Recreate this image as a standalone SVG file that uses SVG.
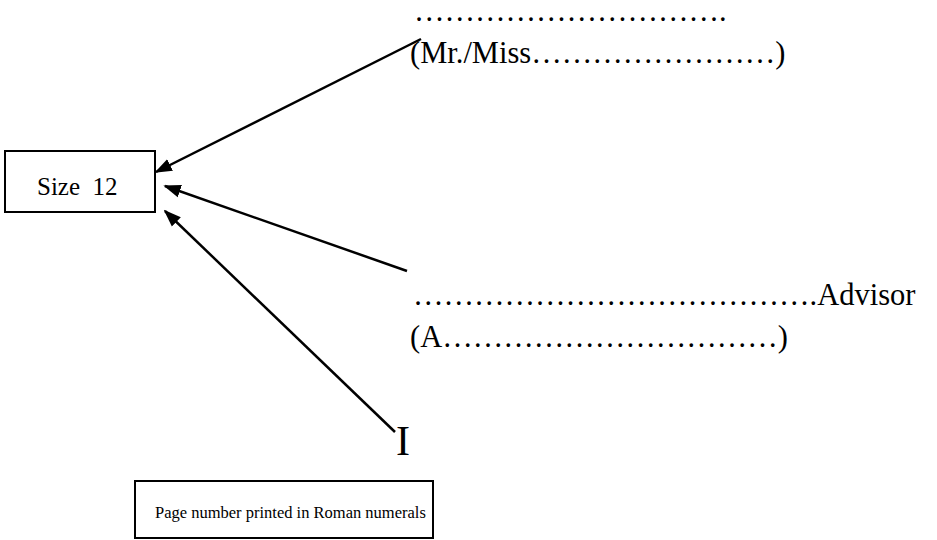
<svg xmlns="http://www.w3.org/2000/svg" width="937" height="540" viewBox="0 0 937 540">
  <style>
    .box { fill: #fff; stroke: #000; stroke-width: 2; }
    .lbl { font-family: "Liberation Serif", "Times New Roman", serif; fill: #000; }
    .big { font-size: 30.5px; }
    .small { font-size: 25px; }
    .note { font-size: 16.5px; }
    .edge { stroke: #000; stroke-width: 2.5; fill: none; marker-end: url(#head); }
  </style>
  <defs>
    <marker id="head" viewBox="0 0 10 10" refX="9" refY="5" markerWidth="7" markerHeight="7" orient="auto" markerUnits="strokeWidth">
      <path d="M0,1.3 L10,5 L0,8.7 z" fill="#000"/>
    </marker>
  </defs>
  <rect width="937" height="540" fill="#fff"/>

  <!-- font size callout -->
  <g id="size-note">
    <rect class="box" x="5" y="151" width="150" height="61"/>
    <text class="lbl small" x="37" y="195" xml:space="preserve">Size  12</text>
  </g>

  <!-- student name lines -->
  <g id="student-name">
    <text class="lbl big" x="414" y="21">&#8230;&#8230;&#8230;&#8230;&#8230;&#8230;&#8230;&#8230;&#8230;&#8230;.</text>
    <text class="lbl big" x="410" y="63">(Mr./Miss&#8230;&#8230;&#8230;&#8230;&#8230;&#8230;&#8230;&#8230;)</text>
  </g>

  <!-- advisor name lines -->
  <g id="advisor-name">
    <text class="lbl big" x="413" y="305">&#8230;&#8230;&#8230;&#8230;&#8230;&#8230;&#8230;&#8230;&#8230;&#8230;&#8230;&#8230;&#8230;.Advisor</text>
    <text class="lbl big" x="410" y="347">(A&#8230;&#8230;&#8230;&#8230;&#8230;&#8230;&#8230;&#8230;&#8230;&#8230;&#8230;)</text>
  </g>

  <!-- roman page number -->
  <g id="page-number">
    <text class="lbl" font-size="42" x="396" y="455">I</text>
  </g>

  <g id="roman-note">
    <rect class="box" x="135" y="481" width="298" height="57"/>
    <text class="lbl note" x="155" y="518">Page number printed in Roman numerals</text>
  </g>

  <g id="connectors">
    <line class="edge" x1="421" y1="39" x2="156" y2="172"/>
    <line class="edge" x1="407" y1="271" x2="165" y2="186"/>
    <line class="edge" x1="395" y1="432" x2="165" y2="211"/>
  </g>
</svg>
